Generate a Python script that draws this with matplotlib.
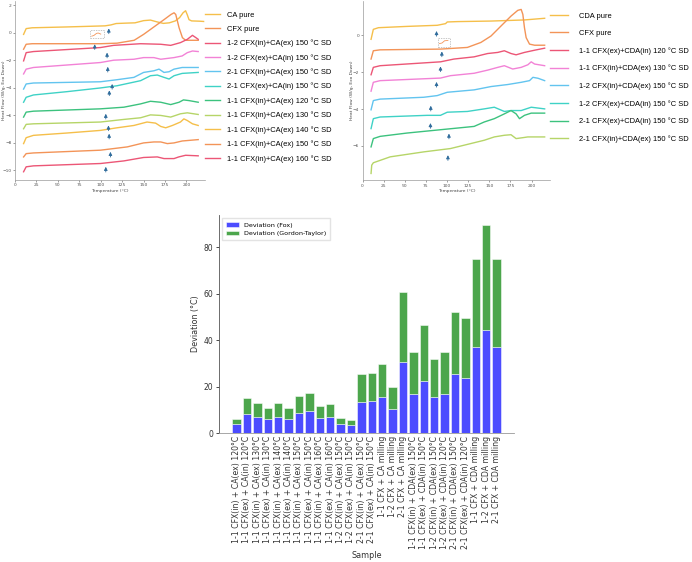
import matplotlib
matplotlib.use("Agg")
import matplotlib.pyplot as plt
from matplotlib.patches import Rectangle

# ---- DSC curves, left panel (CFX + CA), (temperature, heat flow) pairs
ca_pure = [(10, -0.12), (13, 0.3), (20, 0.36), (60, 0.42), (105, 0.5), (112, 0.57), (118, 0.67),
           (130, 0.7), (140, 0.72), (150, 0.88), (158, 0.92), (165, 0.8), (173, 0.68), (180, 0.72),
           (187, 0.86), (192, 1.1), (196, 1.45), (199, 1.6), (201, 1.3), (203, 0.95), (206, 0.86),
           (215, 0.84), (220, 0.82)]
cfx_pure_l = [(10, -1.2), (13, -0.84), (20, -0.8), (100, -0.8), (119, -0.76), (139, -0.55),
              (150, -0.12), (158, 0.24), (166, 0.6), (174, 0.96), (182, 1.33), (185.5, 1.45),
              (187.5, 1.33), (191.4, 0.36), (195.3, -0.36), (199, -0.55), (213.7, -0.55)]
l12_in = [(10, -2.05), (13, -1.45), (21.5, -1.37), (99.6, -1.08), (115, -0.92), (146.5, -0.8),
          (170, -0.84), (181.6, -0.92), (193, -0.72), (201, -0.48), (207, -0.19), (211, -0.36),
          (213.7, -0.48)]
l12_ex = [(10, -3.0), (13, -2.65), (21.5, -2.53), (99.6, -2.17), (115, -2.0), (138.7, -1.93),
          (150, -1.81), (162, -1.81), (170, -1.93), (185.5, -1.81), (195, -1.69), (201, -1.45),
          (207, -1.33), (213.7, -1.37)]
l21_in = [(10, -4.1), (13, -3.73), (21.5, -3.66), (99.6, -3.57), (119, -3.42), (138.7, -3.25),
          (150, -2.89), (162, -2.77), (168, -2.65), (173.8, -2.89), (179.7, -2.84), (185.5, -2.65),
          (195, -2.53), (213.7, -2.53)]
l21_ex = [(10, -5.06), (13, -4.7), (21.5, -4.53), (60.5, -4.29), (99.6, -4.02), (119, -3.86),
          (146.5, -3.49), (158, -3.13), (166, -3.08), (173.8, -3.25), (179.7, -3.37), (185.5, -3.13),
          (195, -2.96), (213.7, -2.89)]
l11_120 = [(10, -6.14), (13, -5.78), (21.5, -5.71), (99.6, -5.54), (127, -5.42), (146.5, -5.18),
           (158, -4.99), (170, -5.06), (181.6, -5.23), (191.4, -5.06), (196.5, -4.89), (203, -4.94),
           (213.7, -5.06)]
l11_130 = [(10, -6.99), (13, -6.67), (21.5, -6.63), (99.6, -6.5), (127, -6.31), (146.5, -6.19),
           (158, -5.98), (170, -6.02), (181.6, -6.14), (193, -5.9), (201, -5.83), (213.7, -5.95)]
l11_140 = [(10, -8.07), (13, -7.64), (21.5, -7.47), (60.5, -7.3), (99.6, -7.11), (119, -6.92),
           (138.7, -6.75), (154, -6.5), (164, -6.58), (170, -6.82), (175.8, -6.92), (183.6, -6.75),
           (193, -6.5), (197, -6.27), (201, -6.39), (207, -6.63), (213.7, -6.75)]
l11_150 = [(10, -9.04), (13, -8.8), (21.5, -8.75), (99.6, -8.55), (131, -8.31), (150, -8.02),
           (162, -7.95), (170, -7.95), (177.7, -8.07), (185.5, -8.02), (195, -7.88), (213.7, -7.78)]
l11_160 = [(10, -10.12), (13, -9.76), (21.5, -9.69), (99.6, -9.52), (127, -9.33), (150, -9.08),
           (166, -9.04), (173.8, -9.16), (185.5, -9.16), (191, -9.04), (199, -8.92), (213.7, -8.96)]
left_labels = ["CA pure", "CFX pure", "1-2 CFX(in)+CA(ex) 150 °C SD", "1-2 CFX(ex)+CA(in) 150 °C SD",
               "2-1 CFX(in)+CA(ex) 150 °C SD", "2-1 CFX(ex)+CA(in) 150 °C SD",
               "1-1 CFX(in)+CA(ex) 120 °C SD", "1-1 CFX(in)+CA(ex) 130 °C SD",
               "1-1 CFX(in)+CA(ex) 140 °C SD", "1-1 CFX(in)+CA(ex) 150 °C SD",
               "1-1 CFX(in)+CA(ex) 160 °C SD"]
left_curves = [ca_pure, cfx_pure_l, l12_in, l12_ex, l21_in, l21_ex, l11_120, l11_130, l11_140,
               l11_150, l11_160]
left_tg = [(109.4, 0.31), (93, -0.84), (107.4, -1.45), (108.2, -2.48), (113.3, -3.73), (110, -4.2),
           (105.9, -5.9), (109, -6.75), (109.8, -7.35), (111.3, -8.67), (105.9, -9.76)]

# ---- DSC curves, right panel (CFX + CDA)
cda_pure = [(10, -0.22), (12.7, 0.32), (18.7, 0.41), (52.5, 0.48), (88.3, 0.54), (98.2, 0.63),
            (100.2, 0.72), (112, 0.74), (152, 0.77), (191.6, 0.83), (215.5, 0.92)]
cfx_pure_r = [(10, -1.29), (12.7, -0.84), (20.7, -0.79), (92.2, -0.75), (124, -0.66), (140, -0.39),
              (152, -0.04), (163.8, 0.5), (175.7, 1.04), (183.7, 1.35), (187.7, 1.4), (189.7, 1.13),
              (191.6, 0.41), (193.6, -0.13), (197.6, -0.48), (203.6, -0.54), (215.5, -0.54)]
r11_ex_120 = [(10, -2.14), (12.7, -1.74), (20.7, -1.65), (92.2, -1.44), (108, -1.29), (132, -1.17),
              (148, -0.99), (160, -0.93), (167.8, -0.84), (175.7, -0.99), (181.7, -1.06),
              (191.6, -0.93), (203.6, -0.81), (215.5, -0.7)]
r11_in_130 = [(10, -3.03), (12.7, -2.55), (20.7, -2.46), (92.2, -2.32), (104, -2.19), (132, -2.06),
              (148, -1.89), (160, -1.74), (167.8, -1.65), (177.7, -1.83), (187.7, -1.74),
              (195.6, -1.6), (199.6, -1.44), (203.6, -1.56), (215.5, -1.65)]
r12_in = [(10, -4.04), (12.7, -3.54), (20.7, -3.46), (72.4, -3.36), (88.3, -3.27), (100.2, -3.09),
          (132, -2.96), (152, -2.78), (171.8, -2.67), (187.7, -2.55), (197.6, -2.46), (201.6, -2.28),
          (207.6, -2.33), (215.5, -2.46)]
r12_ex = [(10, -5.06), (12.7, -4.52), (20.7, -4.43), (76.3, -4.34), (92.2, -4.34), (100.2, -4.17),
          (124, -4.13), (144, -3.99), (155.9, -3.9), (167.8, -4.13), (175.7, -4.08), (187.7, -4.08),
          (199.6, -3.9), (215.5, -3.99)]
r21_ex = [(10, -6.05), (12.7, -5.6), (20.7, -5.48), (52.5, -5.3), (92.2, -5.12), (132, -4.94),
          (144, -4.7), (155.9, -4.52), (167.8, -4.26), (175.7, -4.08), (181.7, -4.26), (185.7, -4.52),
          (191.6, -4.34), (199.6, -4.22), (215.5, -4.22)]
r21_in = [(10, -7.49), (10.8, -7.04), (12.7, -6.91), (32.6, -6.59), (72.4, -6.32), (104, -6.14),
          (120, -5.96), (144, -5.69), (155.9, -5.51), (167.8, -5.42), (175.7, -5.39), (181.7, -5.6),
          (189.7, -5.55), (195.6, -5.51), (215.5, -5.51)]
right_labels = ["CDA pure", "CFX pure", "1-1 CFX(ex)+CDA(in) 120 °C SD", "1-1 CFX(in)+CDA(ex) 130 °C SD",
                "1-2 CFX(in)+CDA(ex) 150 °C SD", "1-2 CFX(ex)+CDA(in) 150 °C SD",
                "2-1 CFX(ex)+CDA(in) 150 °C SD", "2-1 CFX(in)+CDA(ex) 150 °C SD"]
right_curves = [cda_pure, cfx_pure_r, r11_ex_120, r11_in_130, r12_in, r12_ex, r21_ex, r21_in]
right_tg = [(87.5, 0.23), (93.8, -0.88), (92.2, -1.69), (87.5, -2.53), (80.7, -3.82), (80.3, -4.76),
            (102.2, -5.33), (101, -6.5)]

palette = ["#f5bf4a", "#f39458", "#ec5676", "#f282d6", "#62c4ef", "#3fd2c6", "#3cc27e", "#b6d568"]

# ---- bar chart data
samples = ["1-1 CFX(in) + CA(ex) 120°C", "1-1 CFX(ex) + CA(in) 120°C", "1-1 CFX(in) + CA(ex) 130°C",
           "1-1 CFX(ex) + CA(in) 130°C", "1-1 CFX(in) + CA(ex) 140°C", "1-1 CFX(ex) + CA(in) 140°C",
           "1-1 CFX(in) + CA(ex) 150°C", "1-1 CFX(ex) + CA(in) 150°C", "1-1 CFX(in) + CA(ex) 160°C",
           "1-1 CFX(ex) + CA(in) 160°C", "1-2 CFX(in) + CA(ex) 150°C", "1-2 CFX(ex) + CA(in) 150°C",
           "2-1 CFX(in) + CA(ex) 150°C", "2-1 CFX(ex) + CA(in) 150°C", "1-1 CFX + CA milling",
           "1-2 CFX + CA milling", "2-1 CFX + CA milling", "1-1 CFX(in) + CDA(ex) 150°C",
           "1-1 CFX(ex) + CDA(in) 150°C", "1-2 CFX(in) + CDA(ex) 150°C", "1-2 CFX(ex) + CDA(in) 120°C",
           "2-1 CFX(in) + CDA(ex) 150°C", "2-1 CFX(ex) + CDA(in) 120°C", "1-1 CFX + CDA milling",
           "1-2 CFX + CDA milling", "2-1 CFX + CDA milling"]
fox_dev = [3.7, 8.1, 7.1, 6.0, 7.1, 6.0, 8.6, 9.3, 6.6, 7.1, 3.9, 3.4, 13.3, 13.6, 15.4, 10.4,
           30.7, 16.9, 22.6, 15.3, 16.9, 25.3, 23.9, 36.9, 44.3, 36.9]
gt_dev = [2.4, 6.8, 5.9, 4.9, 5.8, 4.7, 7.3, 8.0, 5.0, 5.6, 2.5, 2.3, 12.0, 12.3, 14.2, 9.6,
          30.0, 18.2, 24.0, 16.6, 18.1, 26.8, 25.5, 38.2, 45.1, 38.2]


def dsc_panel(ax, curves, labels, tg, box, yticks, ylim, leg_anchor, leg_space, hlen, hpad):
    lines = []
    for i, c in enumerate(curves):
        xs = [p[0] for p in c]
        ys = [p[1] for p in c]
        ln, = ax.plot(xs, ys, color=palette[i % len(palette)], lw=1.0, label=labels[i])
        lines.append(ln)
    # small up arrows marking Tg
    for x, y in tg:
        ax.annotate("", xy=(x, y), xytext=(x, y - 0.38 * (ylim[1] - ylim[0]) / 13),
                    arrowprops=dict(arrowstyle="-|>,head_length=0.5,head_width=0.25",
                                    mutation_scale=4, color="#2f6c9c", lw=0.6,
                                    shrinkA=0, shrinkB=0))
    ax.add_patch(Rectangle((box[0], box[1]), box[2], box[3], fill=False, ls=(0, (2, 1.5)),
                           ec="#b0b0b0", lw=0.5))
    ax.set_xlim(0, 222)
    ax.set_ylim(*ylim)
    ax.set_xticks([0, 25, 50, 75, 100, 125, 150, 175, 200])
    ax.set_yticks(yticks)
    ax.tick_params(labelsize=3.2, length=1.5, width=0.4, colors="#555555", pad=1)
    for s in ["top", "right"]:
        ax.spines[s].set_visible(False)
    for s in ["left", "bottom"]:
        ax.spines[s].set_color("#9a9a9a")
        ax.spines[s].set_linewidth(0.5)
    ax.set_xlabel("Temperature (°C)", fontsize=3.2, labelpad=1, color="#444444")
    ax.set_ylabel("Heat Flow (W/g, Exo Down)", fontsize=3.2, color="#444444")
    ax.yaxis.set_label_coords(-0.045, 0.5)
    fig.legend(handles=lines, loc="upper left", bbox_to_anchor=leg_anchor, frameon=False,
               prop={"family": "Liberation Sans", "size": 5.4}, labelspacing=leg_space,
               handlelength=hlen, handletextpad=hpad, borderaxespad=0, borderpad=0)


fig = plt.figure(figsize=(6.92, 5.62), dpi=100)

ax1 = fig.add_axes([0.0217, 0.6797, 0.275, 0.3183])
dsc_panel(ax1, left_curves, left_labels, left_tg, (88, -0.4, 15.5, 0.57),
          [-10, -8, -6, -4, -2, 0, 2], (-10.72, 2.3), (205 / 692, 1 - 11.5 / 562), 0.9, 2.0, 0.95)
ax1.plot([89.5, 92, 95, 97, 100], [-0.25, -0.2, -0.05, -0.02, -0.1], color=palette[1], lw=0.6)

ax2 = fig.add_axes([0.524, 0.6792, 0.271, 0.3188])
dsc_panel(ax2, right_curves, right_labels, right_tg, (89, -0.66, 14, 0.5),
          [-6, -4, -2, 0], (-7.86, 1.85), (550 / 692, 1 - 12.5 / 562), 1.33, 2.4, 1.5)
ax2.plot([91, 94, 97, 101], [-0.45, -0.42, -0.3, -0.28], color=palette[1], lw=0.6)

# ---- stacked deviation bars
ax3 = fig.add_axes([0.3165, 0.2295, 0.4265, 0.3879])
ax3.bar(samples, fox_dev, color="blue", alpha=0.7, edgecolor="white", lw=0.5,
        label="Deviation (Fox)")
ax3.bar(samples, gt_dev, bottom=fox_dev, color="green", alpha=0.7, edgecolor="white", lw=0.5,
        label="Deviation (Gordon-Taylor)")
ax3.set_xlabel("Sample", fontsize=5.8, color="#333333")
ax3.xaxis.set_label_coords(0.5, -0.54)
ax3.set_ylabel("Deviation (°C)", fontsize=5.8, color="#333333", labelpad=3)
ax3.tick_params(axis="x", labelsize=5.6, rotation=90, length=0, pad=2, labelcolor="#333333")
ax3.tick_params(axis="y", labelsize=5.5, length=2, width=0.5, pad=2, labelcolor="#333333")
ax3.set_yticks([0, 20, 40, 60, 80])
for s in ["top", "right"]:
    ax3.spines[s].set_visible(False)
ax3.spines["left"].set_color("#555555")
ax3.spines["bottom"].set_color("#999999")
ax3.spines["left"].set_linewidth(0.6)
ax3.spines["bottom"].set_linewidth(0.6)
ax3.legend(loc="upper left", fontsize=4.6, frameon=True, edgecolor="#dddddd", fancybox=False,
           handlelength=2.0, borderpad=0.6, labelspacing=0.5)

fig.savefig("out.png", dpi=100)
